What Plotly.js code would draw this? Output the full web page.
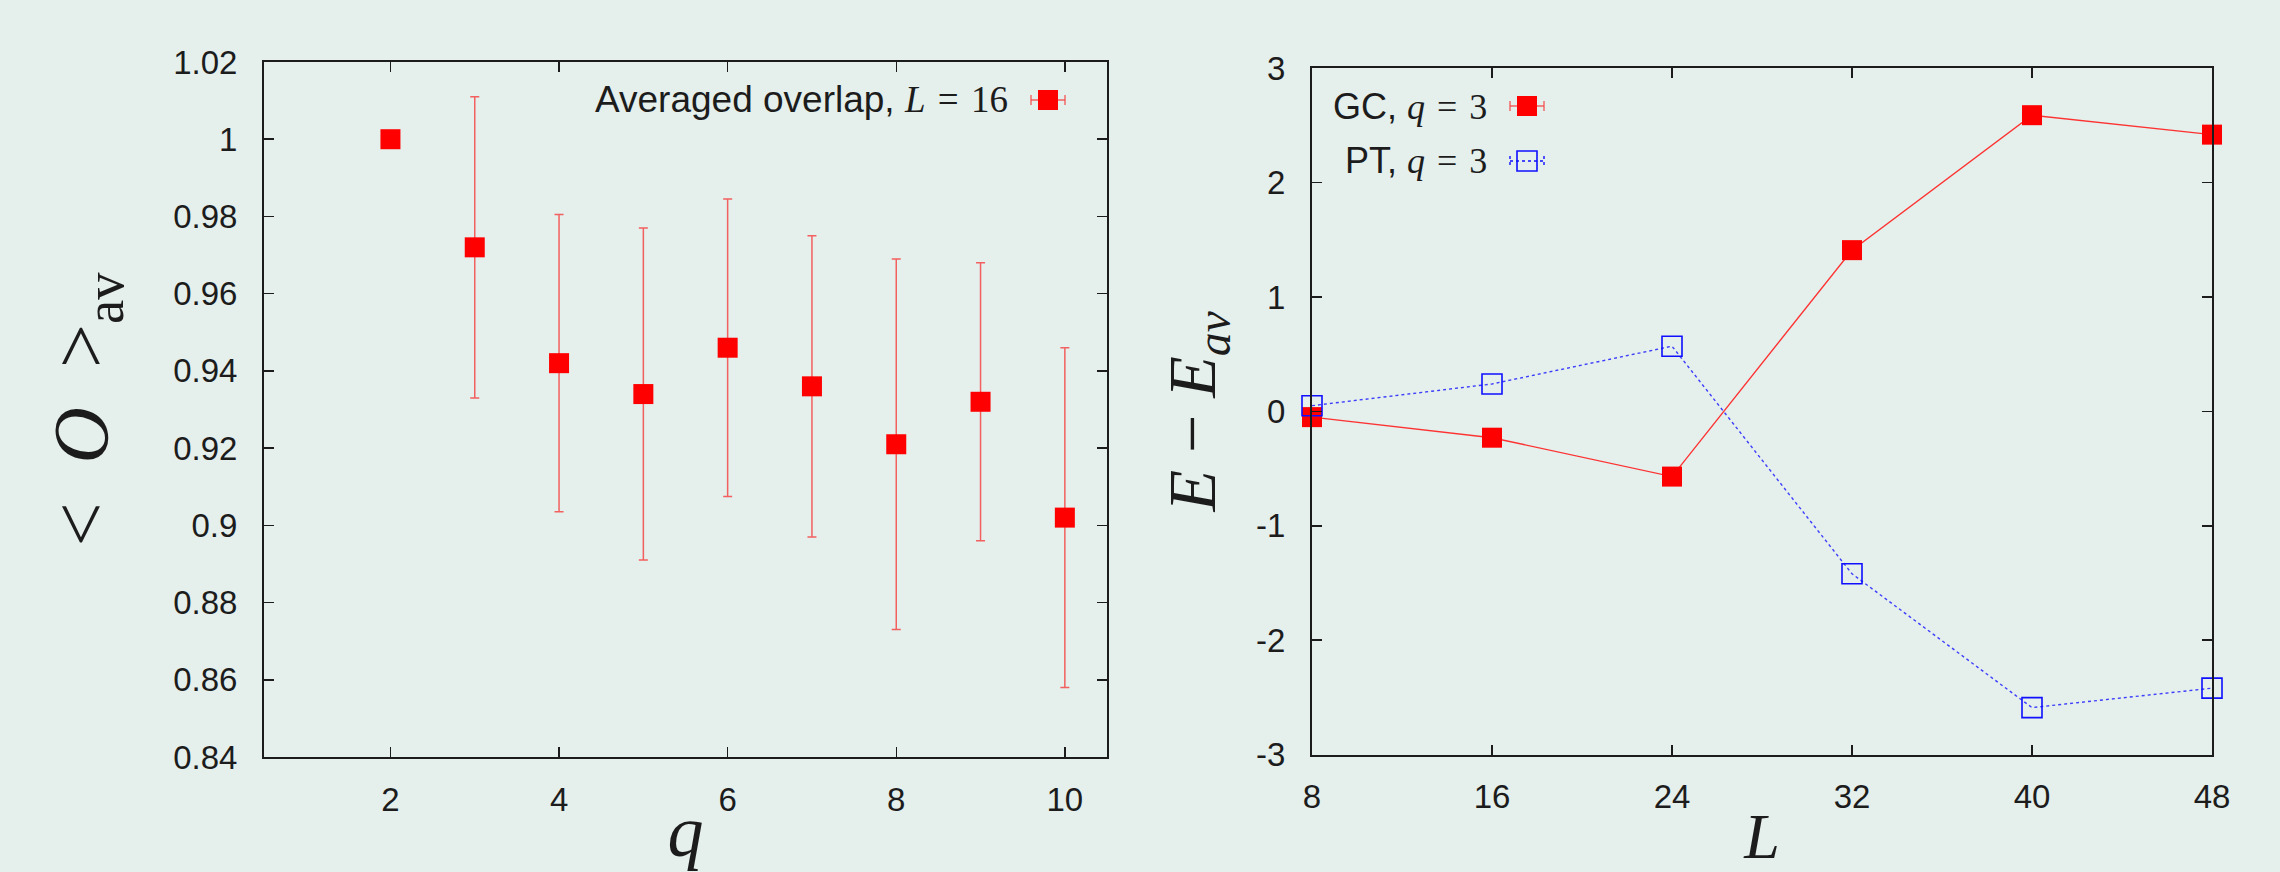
<!DOCTYPE html>
<html>
<head>
<meta charset="utf-8">
<script src="https://cdn.plot.ly/plotly-3.0.1.min.js"></script>
<style>
  html, body { margin: 0; padding: 0; background: #e5efec; }
  #chart { width: 2280px; height: 872px; }
</style>
</head>
<body>
<div id="chart"></div>
<script>
// ---- Data ----
const qValues = [2, 3, 4, 5, 6, 7, 8, 9, 10];
const overlapAvg = [1.000, 0.972, 0.942, 0.934, 0.946, 0.936, 0.921, 0.932, 0.902];
const overlapErr = [0, 0.039, 0.0385, 0.043, 0.0385, 0.039, 0.048, 0.036, 0.044];

const sizesL = [8, 16, 24, 32, 40, 48];
const gcDiff = [-0.05, -0.23, -0.57, 1.41, 2.59, 2.42];
const ptDiff = [0.05, 0.24, 0.57, -1.42, -2.59, -2.42];

const leftYTicks = [0.84, 0.86, 0.88, 0.9, 0.92, 0.94, 0.96, 0.98, 1, 1.02];
const leftYTickText = ['0.84', '0.86', '0.88', '0.9', '0.92', '0.94', '0.96', '0.98', '1', '1.02'];
const leftXTicks = [2, 4, 6, 8, 10];
const rightXTicks = [8, 16, 24, 32, 40, 48];
const rightYTicks = [-3, -2, -1, 0, 1, 2, 3];
const rightYTickText = ['-3', '-2', '-1', '0', '1', '2', '3'];

const SP = '\u2004'; // math-style spacing around "="
const mathSpan = s => '<span style="font-family:\'Liberation Serif\'">' + s + '</span>';
const legendLeftText = 'Averaged overlap, ' + mathSpan('<i>L</i>' + SP + '=' + SP + '16');
const legendGCText = 'GC, ' + mathSpan('<i>q</i>' + SP + '=' + SP + '3');
const legendPTText = 'PT, ' + mathSpan('<i>q</i>' + SP + '=' + SP + '3');

// ---- Styling ----
const W = 2280, H = 872;
const BG = '#e5efec';
const INK = '#1c1c1c';
const RED = '#ff0000';
const ERR_RED = 'rgba(245,70,70,0.85)';
const BLUE = '#1010ff';
const tickFont = { family: 'Liberation Sans, Arial, sans-serif', size: 33, color: INK };
const legendFont = { family: 'Liberation Sans, Arial, sans-serif', size: 36, color: INK };
const mathFont = 'Liberation Serif, Times New Roman, serif';

const px = v => v / W;
const py = v => 1 - v / H;

function axisBase() {
  return {
    showgrid: false, zeroline: false,
    showline: true, mirror: 'ticks', linecolor: INK, linewidth: 2,
    ticks: 'inside', ticklen: 10, tickwidth: 1.5, tickcolor: INK,
    tickfont: tickFont, automargin: false, fixedrange: true
  };
}

const traces = [
  {
    x: qValues, y: overlapAvg, type: 'scatter', mode: 'markers',
    xaxis: 'x', yaxis: 'y', cliponaxis: false, showlegend: false,
    marker: { symbol: 'square', size: 20, color: RED },
    error_y: { type: 'data', array: overlapErr, visible: true, color: ERR_RED, thickness: 1.5, width: 4.5 }
  },
  {
    x: sizesL, y: gcDiff, type: 'scatter', mode: 'lines+markers',
    xaxis: 'x2', yaxis: 'y2', cliponaxis: false, showlegend: false,
    line: { color: 'rgba(255,30,30,0.9)', width: 1.4 },
    marker: { symbol: 'square', size: 20, color: RED }
  },
  {
    x: sizesL, y: ptDiff, type: 'scatter', mode: 'lines+markers',
    xaxis: 'x2', yaxis: 'y2', cliponaxis: false, showlegend: false,
    line: { color: 'rgba(30,30,255,0.85)', width: 1.4, dash: 'dot' },
    marker: { symbol: 'square-open', size: 20, color: BLUE, line: { color: BLUE, width: 1.6 } }
  }
];

const shapes = [];
function errLegend(cx, cy, color, dash) {
  shapes.push({ type: 'line', xref: 'paper', yref: 'paper', x0: px(cx - 17), x1: px(cx + 17), y0: py(cy), y1: py(cy), line: { color: color, width: 1.4, dash: dash } });
  shapes.push({ type: 'line', xref: 'paper', yref: 'paper', x0: px(cx - 17), x1: px(cx - 17), y0: py(cy - 5), y1: py(cy + 5), line: { color: color, width: 1.4, dash: dash } });
  shapes.push({ type: 'line', xref: 'paper', yref: 'paper', x0: px(cx + 17), x1: px(cx + 17), y0: py(cy - 5), y1: py(cy + 5), line: { color: color, width: 1.4, dash: dash } });
}
// left legend sample
errLegend(1048, 100, ERR_RED, 'solid');
shapes.push({ type: 'rect', xref: 'paper', yref: 'paper', x0: px(1038), x1: px(1058), y0: py(110), y1: py(90), fillcolor: RED, line: { width: 0 } });
// GC legend sample
errLegend(1527, 106, ERR_RED, 'solid');
shapes.push({ type: 'rect', xref: 'paper', yref: 'paper', x0: px(1517), x1: px(1537), y0: py(116), y1: py(96), fillcolor: RED, line: { width: 0 } });
// PT legend sample
errLegend(1527, 161, BLUE, 'dot');
shapes.push({ type: 'rect', xref: 'paper', yref: 'paper', x0: px(1517), x1: px(1537), y0: py(171), y1: py(151), fillcolor: 'rgba(0,0,0,0)', line: { color: BLUE, width: 1.6 } });

const annotations = [
  { xref: 'paper', yref: 'paper', x: px(1010), y: py(100), xanchor: 'right', yanchor: 'middle', showarrow: false,
    text: legendLeftText, font: { family: 'Liberation Sans, Arial, sans-serif', size: 37, color: INK } },
  { xref: 'paper', yref: 'paper', x: px(1489), y: py(106), xanchor: 'right', yanchor: 'middle', showarrow: false,
    text: legendGCText, font: legendFont },
  { xref: 'paper', yref: 'paper', x: px(1489), y: py(161), xanchor: 'right', yanchor: 'middle', showarrow: false,
    text: legendPTText, font: legendFont }
];

const layout = {
  width: W, height: H,
  margin: { l: 0, r: 0, t: 0, b: 0 },
  paper_bgcolor: BG, plot_bgcolor: BG,
  showlegend: false,
  xaxis: Object.assign(axisBase(), {
    domain: [264 / W, 1107 / W], range: [0.5, 10.5], anchor: 'y',
    tickvals: leftXTicks, ticklabelstandoff: 12,
    title: { text: '<i>q</i>', font: { family: mathFont, size: 72, color: INK }, standoff: 12 }
  }),
  yaxis: Object.assign(axisBase(), {
    domain: [1 - 757 / H, 1 - 62 / H], range: [0.84, 1.02], anchor: 'x',
    tickvals: leftYTicks, ticktext: leftYTickText, ticklabelstandoff: 18,
    title: { text: '&lt;\u2002<i>O</i>\u2002&gt;<sub>av</sub>', font: { family: mathFont, size: 78, color: INK }, standoff: 40 }
  }),
  xaxis2: Object.assign(axisBase(), {
    domain: [1312 / W, 2212 / W], range: [8, 48], anchor: 'y2',
    tickvals: rightXTicks, ticklabelstandoff: 12,
    title: { text: '<i>L</i>', font: { family: mathFont, size: 64, color: INK }, standoff: 14 }
  }),
  yaxis2: Object.assign(axisBase(), {
    domain: [1 - 754.5 / H, 1 - 68.3 / H], range: [-3, 3], anchor: 'x2',
    tickvals: rightYTicks, ticktext: rightYTickText, ticklabelstandoff: 18,
    title: { text: '<i>E</i> − <i>E<sub>av</sub></i>', font: { family: mathFont, size: 68, color: INK }, standoff: 18 }
  }),
  shapes: shapes,
  annotations: annotations
};

Plotly.newPlot('chart', traces, layout, { displayModeBar: false, staticPlot: true });
</script>
</body>
</html>
